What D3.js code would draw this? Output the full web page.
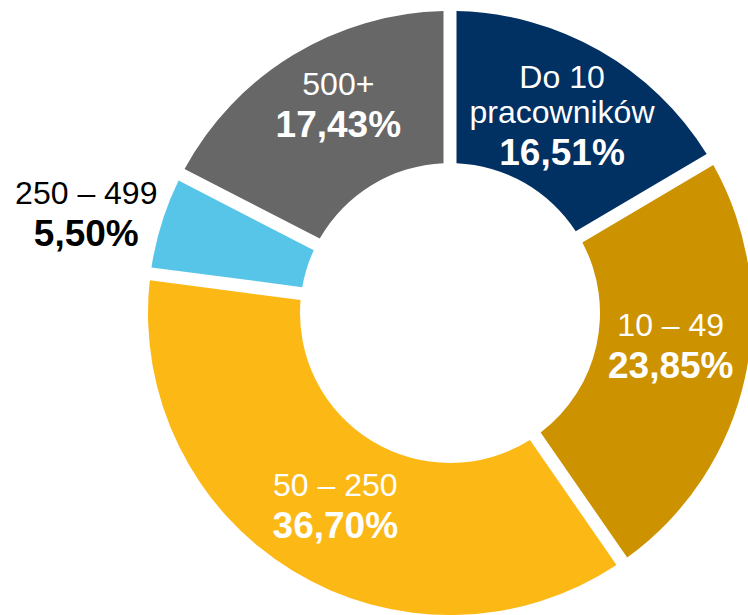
<!DOCTYPE html>
<html>
<head>
<meta charset="utf-8">
<script src="https://cdn.jsdelivr.net/npm/d3@7"></script>
<style>
  html, body { margin: 0; padding: 0; background: #ffffff; }
  svg { display: block; font-family: "Liberation Sans", Arial, sans-serif; }
</style>
</head>
<body>
<svg id="chart" width="748" height="615"></svg>
<script>
// ---- data ----
const categories = ["Do 10 pracowników", "10 – 49", "50 – 250", "250 – 499", "500+"];
const labelLines = [["Do 10", "pracowników"], ["10 – 49"], ["50 – 250"], ["250 – 499"], ["500+"]];
const shares = [16.51, 23.85, 36.70, 5.50, 17.43];
const shareLabels = ["16,51%", "23,85%", "36,70%", "5,50%", "17,43%"];

// ---- styling / layout ----
const colors = ["#013062", "#CC9200", "#FCB815", "#57C5E8", "#676767"];
const textColors = ["#ffffff", "#ffffff", "#ffffff", "#000000", "#ffffff"];
const outside = [false, false, false, true, false];
const labelShift = [[0, 48], [0, 17], [3, 32], [-1, 46], [6, 17]];

const cx = 450, cy = 313;
const rOuter = 302, rInner = 150, gap = 13;

const svg = d3.select("#chart");
const g = svg.append("g").attr("transform", `translate(${cx},${cy})`);

const pie = d3.pie().sort(null).value(d => d.value).startAngle(0).endAngle(2 * Math.PI);
const data = categories.map((c, i) => ({ name: c, value: shares[i], i }));
const arcs = pie(data);

const arc = d3.arc()
  .innerRadius(rInner)
  .outerRadius(rOuter)
  .padRadius(rOuter)
  .padAngle(gap / rOuter);

g.selectAll("path.slice")
  .data(arcs)
  .join("path")
  .attr("class", "slice")
  .attr("d", arc)
  .attr("fill", d => colors[d.data.i]);

const labelArc = d3.arc().innerRadius(380).outerRadius(380);

const lbl = g.selectAll("g.label")
  .data(arcs)
  .join("g")
  .attr("class", "label")
  .attr("transform", d => {
    const i = d.data.i;
    const [x, y] = outside[i] ? labelArc.centroid(d) : arc.centroid(d);
    return `translate(${x + labelShift[i][0]},${y + labelShift[i][1]})`;
  });

lbl.each(function(d) {
  const i = d.data.i;
  const sel = d3.select(this);
  const lines = labelLines[i];
  const n = lines.length;
  lines.forEach((t, k) => {
    const offset = -42 - (n - 1 - k) * 35;
    sel.append("text")
      .attr("text-anchor", "middle")
      .attr("y", offset)
      .attr("font-size", 32)
      .attr("fill", textColors[i])
      .text(t);
  });
  sel.append("text")
    .attr("text-anchor", "middle")
    .attr("y", 0)
    .attr("font-size", 37)
    .attr("font-weight", "bold")
    .attr("fill", textColors[i])
    .text(shareLabels[i]);
});
</script>
</body>
</html>
